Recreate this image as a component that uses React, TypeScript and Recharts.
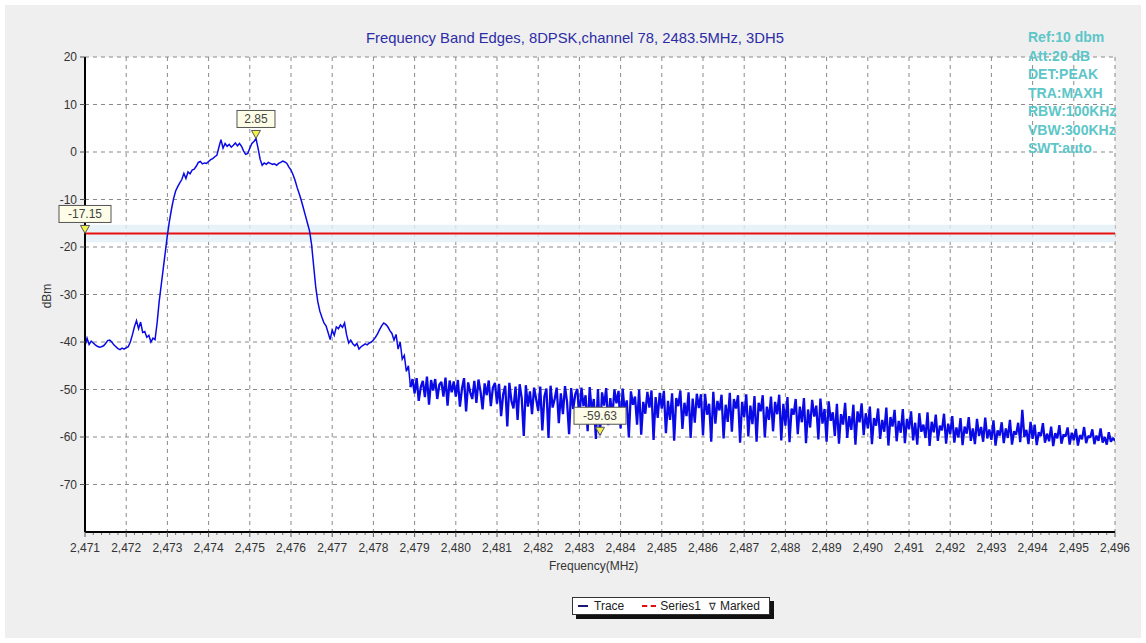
import React from "react";
import {
    ComposedChart,
    Line,
    XAxis,
    YAxis,
    CartesianGrid,
    ReferenceLine,
    ReferenceArea,
    ReferenceDot,
} from "recharts";

// sweep settings of the analyzer trace (MHz)
const FREQ_START = 2471;
const FREQ_STEP = 0.05;
// above this frequency the trace is in the noise floor (drawn heavier, like the dense sweep)
const NOISE_FROM = 2478.9;

// trace levels in dBm, one row per MHz (20 points each)
const TRACE_LEVELS: number[] = [
    // 2471
    -40.8, -39.2, -40.5, -39.8, -40.2, -40.6, -40.9, -41.1, -41.0, -40.8, -40.3, -39.7, -39.6, -40.0, -40.6, -41.0, -41.4, -41.6, -41.3, -41.5,
    // 2472
    -41.2, -41.0, -40.0, -38.5, -36.8, -35.5, -37.2, -35.8, -38.0, -37.8, -39.0, -38.6, -40.0, -39.2, -39.5, -36.0, -31.5, -28.0, -24.5, -21.0,
    // 2473
    -17.5, -14.5, -12.0, -9.8, -8.2, -7.3, -6.5, -5.8, -4.5, -5.6, -4.2, -4.6, -3.8, -3.6, -3.0, -2.2, -2.0, -2.5, -2.3, -2.4,
    // 2474
    -2.0, -1.6, -1.4, -1.0, -0.7, 1.0, 2.6, 0.8, 1.8, 1.2, 1.6, 1.0, 1.4, 1.9, 1.3, 1.8, 1.2, 0.2, -0.5, -0.3,
    // 2475
    0.8, 1.8, 2.2, 2.85, 0.8, -1.5, -2.8, -2.3, -2.6, -2.2, -2.4, -2.6, -2.5, -2.8, -2.4, -2.2, -1.9, -2.1, -2.4, -3.2,
    // 2476
    -3.8, -4.8, -6.0, -7.5, -8.8, -10.2, -11.8, -13.4, -15.0, -16.6, -19.5, -24.0, -28.4, -31.5, -33.5, -34.8, -36.0, -36.6, -38.0, -39.5,
    // 2477
    -37.5, -38.6, -36.8, -37.2, -36.4, -36.9, -36.0, -38.5, -40.2, -39.6, -40.4, -40.8, -40.3, -41.5, -41.0, -40.7, -40.4, -40.6, -40.2, -40.0,
    // 2478
    -39.6, -39.0, -38.3, -37.4, -36.6, -36.0, -36.3, -36.8, -37.6, -38.2, -39.6, -38.4, -41.5, -40.0, -43.6, -42.8, -46.2, -45.0, -49.5, -47.8,
    // 2479
    -50.8, -47.6, -52.4, -49.5, -48.2, -51.6, -47.3, -53.2, -48.0, -50.2, -47.8, -52.0, -49.0, -48.4, -51.5, -47.5, -53.4, -48.1, -50.6, -48.3,
    // 2480
    -51.5, -48.0, -53.6, -49.8, -47.6, -54.6, -48.5, -50.6, -52.0, -48.2, -52.8, -47.9, -50.4, -54.2, -48.7, -51.2, -48.1, -53.5, -49.6, -48.6,
    // 2481
    -53.0, -48.8, -55.6, -51.0, -49.2, -57.8, -48.6, -52.4, -54.0, -49.4, -56.4, -48.9, -51.8, -59.8, -49.1, -53.6, -50.4, -55.2, -49.6, -52.0,
    // 2482
    -54.5, -49.4, -58.6, -51.5, -49.8, -60.2, -49.2, -53.8, -52.0, -49.6, -57.1, -50.8, -55.2, -49.3, -52.6, -59.4, -49.7, -54.1, -51.0, -49.9,
    // 2483
    -56.3, -49.6, -53.5, -51.2, -58.8, -49.5, -54.7, -52.0, -60.4, -49.9, -59.63, -50.6, -53.4, -49.7, -57.5, -51.8, -55.8, -50.0, -52.9, -50.3,
    // 2484
    -58.2, -49.8, -54.6, -52.3, -60.1, -50.4, -53.2, -51.5, -57.4, -50.0, -59.5, -52.6, -55.1, -50.5, -53.8, -50.2, -60.6, -51.6, -56.0, -50.7,
    // 2485
    -54.0, -50.3, -59.2, -52.4, -56.4, -50.8, -60.8, -51.8, -53.5, -50.2, -58.3, -52.8, -55.6, -50.6, -60.2, -51.9, -57.0, -50.9, -53.9, -51.0,
    // 2486
    -59.6, -50.9, -55.3, -53.0, -61.0, -50.5, -57.2, -52.4, -54.4, -51.1, -60.3, -53.2, -56.8, -50.7, -58.9, -52.0, -54.0, -51.2, -61.2, -52.6,
    // 2487
    -55.8, -51.0, -59.9, -53.4, -57.3, -51.4, -61.0, -52.8, -54.6, -51.2, -60.1, -53.6, -56.4, -51.5, -58.8, -52.6, -55.2, -51.1, -60.7, -53.0,
    // 2488
    -57.6, -51.6, -61.1, -54.0, -55.3, -52.0, -59.4, -53.6, -56.9, -51.8, -61.3, -54.2, -58.0, -52.2, -55.7, -53.4, -60.5, -51.9, -57.2, -54.1,
    // 2489
    -61.0, -52.5, -56.6, -54.8, -59.8, -53.0, -61.4, -55.2, -57.4, -52.8, -60.2, -55.6, -58.5, -53.2, -61.6, -54.6, -56.9, -52.9, -59.6, -55.0,
    // 2490
    -58.2, -53.6, -61.5, -56.0, -57.6, -54.0, -60.4, -56.4, -58.9, -53.8, -61.8, -55.8, -57.8, -54.3, -60.9, -56.6, -59.1, -54.1, -61.3, -56.2,
    // 2491
    -58.4, -54.6, -60.7, -57.0, -61.6, -55.0, -58.9, -57.4, -60.2, -54.8, -61.9, -56.8, -59.0, -55.3, -60.8, -57.6, -58.6, -55.1, -61.4, -57.2,
    // 2492
    -59.4, -55.6, -61.2, -58.0, -60.1, -56.0, -61.7, -57.8, -59.3, -55.8, -60.8, -58.2, -61.5, -56.2, -59.8, -57.9, -61.0, -55.9, -60.3, -58.4,
    // 2493
    -60.6, -56.5, -61.8, -58.6, -59.7, -56.9, -61.3, -58.2, -60.2, -56.4, -61.6, -58.8, -59.5, -57.0, -61.1, -54.3, -60.0, -58.5, -61.5, -56.8,
    // 2494
    -60.4, -57.4, -61.7, -59.0, -59.8, -57.1, -61.2, -59.3, -60.9, -57.8, -61.9, -59.2, -60.3, -57.5, -61.4, -59.5, -59.9, -58.0, -61.6, -59.1,
    // 2495
    -60.7, -58.3, -61.8, -59.6, -60.5, -57.9, -61.3, -59.8, -60.1, -58.4, -61.5, -59.7, -60.8, -58.2, -61.2, -60.0, -61.6, -59.0, -61.0, -60.2,
    // 2496
    -60.8,
];

const LIMIT_LEVEL = -17.15;

const MARKER_FREQS = [2471, 2475.15, 2483.5];
const MARKER_LEVELS = [-17.15, 2.85, -59.63];

const X_TICKS = [2471, 2472, 2473, 2474, 2475, 2476, 2477, 2478, 2479, 2480, 2481, 2482, 2483, 2484, 2485, 2486, 2487, 2488, 2489, 2490, 2491, 2492, 2493, 2494, 2495, 2496];
const Y_TICKS = [-70, -60, -50, -40, -30, -20, -10, 0, 10, 20];
// unlabelled minor ticks on the frequency axis, every 0.2 MHz
const X_MINOR_TICKS = X_TICKS.slice(0, -1).flatMap((t) => [t + 0.2, t + 0.4, t + 0.6, t + 0.8]);

const SETTINGS = ["Ref:10 dbm", "Att:20 dB", "DET:PEAK", "TRA:MAXH", "RBW:100KHz", "VBW:300KHz", "SWT:auto"];

const TITLE = "Frequency Band Edges, 8DPSK,channel 78, 2483.5MHz, 3DH5";

const traceData = TRACE_LEVELS.map((level, i) => {
    const freq = Number((FREQ_START + i * FREQ_STEP).toFixed(2));
    return {
        freq,
        level: freq <= NOISE_FROM ? level : null,
        noise: freq >= NOISE_FROM ? level : null,
    };
});

const FONT = "'Liberation Sans', Arial, sans-serif";
const TRACE_COLOR = "#0a0ae6";

function MarkerShape(props: any) {
    const { cx, cy, value } = props;
    const txt = value.toFixed(2);
    const w = txt.length * 7 + 10;
    const h = 17;
    return (
        <g>
            <rect x={cx - w / 2} y={cy - 28} width={w} height={h} fill="#fdfde8" stroke="#555" strokeWidth={1} />
            <text x={cx} y={cy - 15.5} textAnchor="middle" fontSize={12} fontFamily={FONT} fill="#444">{txt}</text>
            <path d={`M${cx - 4.5},${cy - 8} L${cx + 4.5},${cy - 8} L${cx},${cy} Z`} fill="#f2f24a" stroke="#555" strokeWidth={1} />
        </g>
    );
}

function LegendBox() {
    return (
        <div style={{ position: "absolute", left: 572, top: 597, width: 202, height: 22 }}>
            <div style={{ position: "absolute", left: 4, top: 4, width: 198, height: 18, background: "#111" }} />
            <div style={{
                position: "absolute", left: 0, top: 0, width: 196, height: 16,
                background: "#fff", border: "1px solid #333",
                fontFamily: FONT, fontSize: 12, color: "#222",
                display: "flex", alignItems: "center", whiteSpace: "nowrap",
            }}>
                <span style={{ display: "inline-block", width: 10, height: 2, background: "#1a1a70", margin: "0 6px 0 5px" }} />
                <span>Trace</span>
                <span style={{ display: "inline-block", width: 14, borderTop: "2px dashed #e01010", margin: "0 4px 0 18px" }} />
                <span>Series1</span>
                <span style={{ margin: "0 4px 0 8px", fontSize: 10 }}>&#8711;</span>
                <span>Marked</span>
            </div>
        </div>
    );
}

export default function App() {
    return (
        <div style={{ position: "absolute", left: 0, top: 0, width: 1146, height: 643, background: "#fff" }}>
            <div style={{ position: "absolute", left: 5, top: 5, width: 1136, height: 633, background: "#efefef" }} />
            <div style={{ position: "absolute", left: 85, top: 57, width: 1030, height: 475, background: "#fff" }} />
            <div style={{ position: "absolute", left: 0, top: 0 }}>
                <ComposedChart
                    width={1146}
                    height={643}
                    data={traceData}
                    margin={{ top: 57, right: 31, bottom: 81, left: 0 }}
                >
                    <CartesianGrid stroke="#8a8a8a" strokeDasharray="4 4" strokeWidth={1} />
                    <ReferenceArea y1={-19.0} y2={-15.3} fill="#e2f0f7" fillOpacity={0.8} stroke="none" ifOverflow="hidden" />
                    <XAxis
                        dataKey="freq"
                        type="number"
                        domain={[2471, 2496]}
                        ticks={X_TICKS}
                        tickFormatter={(v: number) => v.toLocaleString("en-US")}
                        tick={{ fontSize: 12, fill: "#333", fontFamily: FONT }}
                        axisLine={{ stroke: "#000", strokeWidth: 2 }}
                        tickLine={{ stroke: "#555" }}
                        tickSize={5}
                        tickMargin={6}
                        height={30}
                        allowDataOverflow
                    />
                    <YAxis
                        type="number"
                        domain={[-80, 20]}
                        ticks={Y_TICKS}
                        tick={{ fontSize: 12, fill: "#333", fontFamily: FONT }}
                        axisLine={{ stroke: "#000", strokeWidth: 2 }}
                        tickLine={{ stroke: "#555" }}
                        tickSize={5}
                        tickMargin={3}
                        width={85}
                        allowDataOverflow
                    />
                    {X_MINOR_TICKS.map((t) => (
                        <ReferenceLine
                            key={t}
                            segment={[{ x: t, y: -80 }, { x: t, y: -80.6 }]}
                            stroke="#666"
                            strokeWidth={1}
                            ifOverflow="visible"
                        />
                    ))}
                    <ReferenceLine y={LIMIT_LEVEL} stroke="#e81010" strokeWidth={2} ifOverflow="hidden" />
                    <Line
                        type="linear"
                        dataKey="level"
                        stroke={TRACE_COLOR}
                        strokeWidth={1.5}
                        dot={false}
                        activeDot={false}
                        isAnimationActive={false}
                        name="Trace"
                    />
                    <Line
                        type="linear"
                        dataKey="noise"
                        stroke={TRACE_COLOR}
                        strokeWidth={2.3}
                        strokeLinejoin="bevel"
                        dot={false}
                        activeDot={false}
                        isAnimationActive={false}
                        legendType="none"
                    />
                    {MARKER_FREQS.map((f, i) => (
                        <ReferenceDot
                            key={f}
                            x={f}
                            y={MARKER_LEVELS[i]}
                            ifOverflow="visible"
                            shape={(p: any) => <MarkerShape {...p} value={MARKER_LEVELS[i]} />}
                        />
                    ))}
                </ComposedChart>
            </div>
            <LegendBox />
            <div style={{
                position: "absolute", left: 0, width: 1146, top: 30, textAlign: "center",
                fontFamily: FONT, fontSize: 14.8, color: "#2c2ca6", paddingLeft: 4, boxSizing: "border-box",
            }}>
                {TITLE}
            </div>
            <div style={{ position: "absolute", left: 1028, top: 28, fontFamily: FONT, fontSize: 14, fontWeight: "bold", color: "#5cc6c8", lineHeight: "18.5px" }}>
                {SETTINGS.map((s) => <div key={s}>{s}</div>)}
            </div>
            <div style={{
                position: "absolute", left: 30, top: 289, width: 34, textAlign: "center",
                transform: "rotate(-90deg)", fontFamily: FONT, fontSize: 12, color: "#333",
            }}>
                dBm
            </div>
            <div style={{ position: "absolute", left: 549, top: 559, fontFamily: FONT, fontSize: 12, color: "#333" }}>
                Frequency(MHz)
            </div>
        </div>
    );
}
